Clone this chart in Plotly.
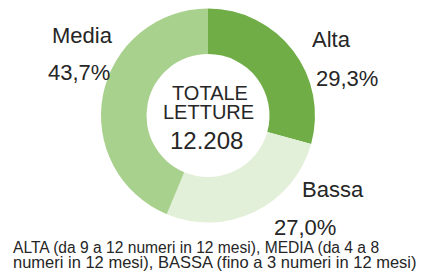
import plotly.graph_objects as go

W, H = 427, 274

# Data
categories = ["Alta", "Bassa", "Media"]
values = [29.3, 27.0, 43.7]
pct_labels = ["29,3%", "27,0%", "43,7%"]
colors = ["#70AD47", "#E2F0D9", "#A9D18E"]
center_lines = ["TOTALE", "LETTURE", "12.208"]
footer_lines = [
    "ALTA (da 9 a 12 numeri in 12 mesi), MEDIA (da 4 a 8",
    "numeri in 12 mesi), BASSA (fino a 3 numeri in 12 mesi)",
]

FONT = "Liberation Sans, Arial, sans-serif"
TXT = "#262626"

def px(x):
    return x / W

def py(y):
    return 1 - y / H

# pie geometry in pixels
cx, cy, r = 208, 115.5, 107

fig = go.Figure(
    go.Pie(
        labels=categories,
        values=values,
        marker=dict(colors=colors, line=dict(width=0)),
        hole=0.575,
        sort=False,
        direction="clockwise",
        rotation=0,
        textinfo="none",
        hoverinfo="label+percent",
        domain=dict(x=[px(cx - r), px(cx + r)], y=[py(cy + r), py(cy - r)]),
        showlegend=False,
    )
)

# label placement (pixel positions: name center, pct center)
label_pos = {
    "Alta": ((331, 39), (347, 78)),
    "Bassa": ((333, 189), (305, 227)),
    "Media": ((82, 35), (79, 72.5)),
}

annotations = []
for cat, pct in zip(categories, pct_labels):
    (nx, ny), (vx, vy) = label_pos[cat]
    annotations.append(dict(text=cat, x=px(nx), y=py(ny), xref="paper", yref="paper",
                            xanchor="center", yanchor="middle", showarrow=False,
                            font=dict(size=22, color=TXT, family=FONT)))
    annotations.append(dict(text=pct, x=px(vx), y=py(vy), xref="paper", yref="paper",
                            xanchor="center", yanchor="middle", showarrow=False,
                            font=dict(size=22, color=TXT, family=FONT)))

center_pos = [(210, 93, 20), (208.5, 112, 20), (206, 140, 24)]
for t, (x, y, s) in zip(center_lines, center_pos):
    annotations.append(dict(text=t, x=px(x), y=py(y), xref="paper", yref="paper",
                            xanchor="center", yanchor="middle", showarrow=False,
                            font=dict(size=s, color=TXT, family=FONT)))

footer_pos = [(11, 247, 15.6), (11, 262, 16.5)]
for t, (x, y, s) in zip(footer_lines, footer_pos):
    annotations.append(dict(text=t, x=px(x), y=py(y), xref="paper", yref="paper",
                            xanchor="left", yanchor="middle", showarrow=False,
                            font=dict(size=s, color=TXT, family=FONT)))

fig.update_layout(
    width=W,
    height=H,
    margin=dict(l=0, r=0, t=0, b=0),
    paper_bgcolor="white",
    plot_bgcolor="white",
    annotations=annotations,
)

fig.write_html(
    "out.html",
    config={"displayModeBar": False},
    post_script="document.body.style.margin='0px';document.body.style.padding='0px';",
)
